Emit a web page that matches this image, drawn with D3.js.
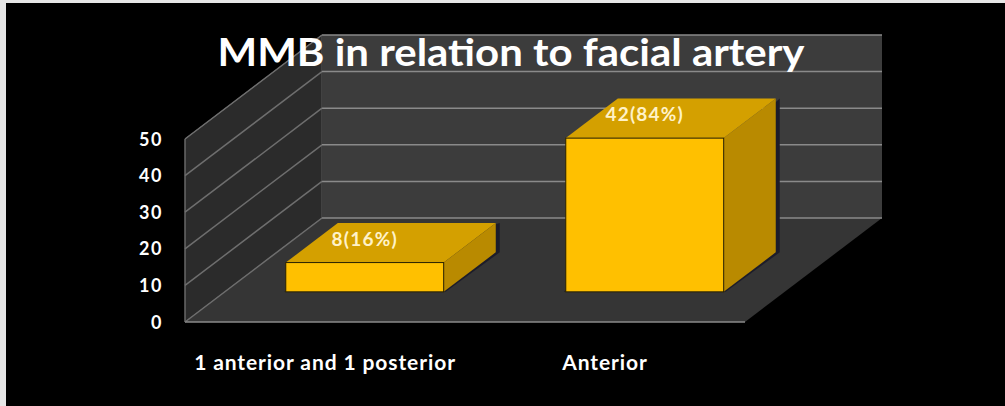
<!DOCTYPE html>
<html>
<head>
<meta charset="utf-8">
<script src="https://cdn.jsdelivr.net/npm/d3@7"></script>
<style>
  html, body { margin: 0; padding: 0; background: #000; }
  svg { display: block; }
</style>
</head>
<body>
<div id="chart"></div>
<script>
// chart data
var categories = ["1 anterior and 1 posterior", "Anterior"];
var counts = [8, 42];
var labels = ["8(16%)", "42(84%)"];
var yTicks = [0, 10, 20, 30, 40, 50];
var title = "MMB in relation to facial artery";

var W = 1005, H = 406;

// front plane of the 3d box
var x0 = 185, plotW = 560;
// depth vector (front -> back wall)
var depth = {dx: 137, dy: -104};
// bars sit between these depth fractions
var zFront = 0.29, zBack = 0.67;

var x = d3.scaleBand()
    .domain(categories)
    .range([x0, x0 + plotW])
    .paddingInner(0.436)
    .paddingOuter(0.218);
var y = d3.scaleLinear()
    .domain([0, 50])
    .range([322, 139]);

function P(px, v, z) {
    return [px + z * depth.dx, y(v) + z * depth.dy];
}
function poly(pts) {
    return pts.map(function (p) { return p.join(","); }).join(" ");
}

var svg = d3.select("#chart").append("svg")
    .attr("width", W)
    .attr("height", H);

// page border (light strip top and left)
svg.append("rect").attr("width", W).attr("height", H).attr("fill", "#e6e6e6");
svg.append("rect").attr("x", 6).attr("y", 3).attr("width", W - 6).attr("height", H - 3).attr("fill", "#000");

var xR = x0 + plotW;

// side wall
svg.append("polygon")
    .attr("points", poly([P(x0, 0, 0), P(x0, 50, 0), P(x0, 50, 1), P(x0, 0, 1)]))
    .attr("fill", "#2b2b2b")
    .attr("stroke", "#5a5a5a")
    .attr("stroke-width", 1);

// back wall
svg.append("polygon")
    .attr("points", poly([P(x0, 0, 1), P(x0, 50, 1), P(xR, 50, 1), P(xR, 0, 1)]))
    .attr("fill", "#3c3c3c");

// floor
svg.append("polygon")
    .attr("points", poly([P(x0, 0, 0), P(xR, 0, 0), P(xR, 0, 1), P(x0, 0, 1)]))
    .attr("fill", "#353535");

// gridlines on back wall and side wall
yTicks.forEach(function (v) {
    var a = P(x0, v, 1), b = P(xR, v, 1), c = P(x0, v, 0);
    svg.append("line")
        .attr("x1", a[0]).attr("y1", a[1]).attr("x2", b[0]).attr("y2", b[1])
        .attr("stroke", "#8a8a8a").attr("stroke-width", 1.5);
    svg.append("line")
        .attr("x1", c[0]).attr("y1", c[1]).attr("x2", a[0]).attr("y2", a[1])
        .attr("stroke", "#6e6e6e").attr("stroke-width", 1.5);
});
// front floor edge
var f0 = P(x0, 0, 0), f1 = P(xR, 0, 0);
svg.append("line")
    .attr("x1", f0[0]).attr("y1", f0[1]).attr("x2", f1[0]).attr("y2", f1[1])
    .attr("stroke", "#8a8a8a").attr("stroke-width", 1.5);
svg.append("line")
    .attr("x1", x0).attr("y1", y(0)).attr("x2", x0).attr("y2", y(50))
    .attr("stroke", "#6e6e6e").attr("stroke-width", 1);

// bars
categories.forEach(function (c, i) {
    var v = counts[i];
    var l = x(c), r = x(c) + x.bandwidth();
    var g = svg.append("g");
    // shadow
    g.append("polygon")
        .attr("points", poly([P(l - 2, 0, zFront), P(r + 2, 0, zFront), P(r + 4, 0, zBack), P(r + 4, v, zBack)]))
        .attr("fill", "#1c1c2a");
    // side
    g.append("polygon")
        .attr("points", poly([P(r, 0, zFront), P(r, v, zFront), P(r, v, zBack), P(r, 0, zBack)]))
        .attr("fill", "#b98a00");
    // top
    g.append("polygon")
        .attr("points", poly([P(l, v, zFront), P(r, v, zFront), P(r, v, zBack), P(l, v, zBack)]))
        .attr("fill", "#d4a000");
    // front
    var a = P(l, v, zFront), b = P(r, 0, zFront);
    g.append("rect")
        .attr("x", a[0]).attr("y", a[1])
        .attr("width", b[0] - a[0]).attr("height", b[1] - a[1])
        .attr("fill", "#ffc000")
        .attr("stroke", "#2a2200").attr("stroke-width", 1);

    // data label
    var front = P(l + x.bandwidth() / 2, v, zFront);
    var back = P(l + x.bandwidth() / 2, v, zBack);
    svg.append("text")
        .attr("x", front[0])
        .attr("y", (front[1] + back[1]) / 2 - 2)
        .attr("text-anchor", "middle")
        .attr("dominant-baseline", "middle")
        .attr("fill", "#fff2c8")
        .attr("font-family", "Lato, sans-serif")
        .attr("font-weight", "bold")
        .attr("font-size", 19)
        .attr("letter-spacing", 1.2)
        .text(labels[i]);
});

// y tick labels
svg.append("g").selectAll("text")
    .data(yTicks)
    .enter().append("text")
    .attr("x", 163)
    .attr("y", function (d) { return y(d) + 2; })
    .attr("text-anchor", "end")
    .attr("dominant-baseline", "middle")
    .attr("fill", "#fff")
    .attr("font-family", "Lato, sans-serif")
    .attr("font-weight", "bold")
    .attr("font-size", 18)
    .attr("letter-spacing", 1.5)
    .text(function (d) { return d; });

// category labels
svg.append("g").selectAll("text")
    .data(categories)
    .enter().append("text")
    .attr("x", function (d) { return x(d) + x.bandwidth() / 2; })
    .attr("y", 370)
    .attr("text-anchor", "middle")
    .attr("fill", "#fff")
    .attr("font-family", "Lato, sans-serif")
    .attr("font-weight", "bold")
    .attr("font-size", 21)
    .attr("letter-spacing", 0.9)
    .text(function (d) { return d; });

// title
svg.append("text")
    .attr("x", 511)
    .attr("y", 66)
    .attr("text-anchor", "middle")
    .attr("fill", "#fff")
    .attr("font-family", "Lato, sans-serif")
    .attr("font-weight", "bold")
    .attr("font-size", 38)
    .attr("textLength", 587)
    .attr("lengthAdjust", "spacingAndGlyphs")
    .text(title);
</script>
</body>
</html>
